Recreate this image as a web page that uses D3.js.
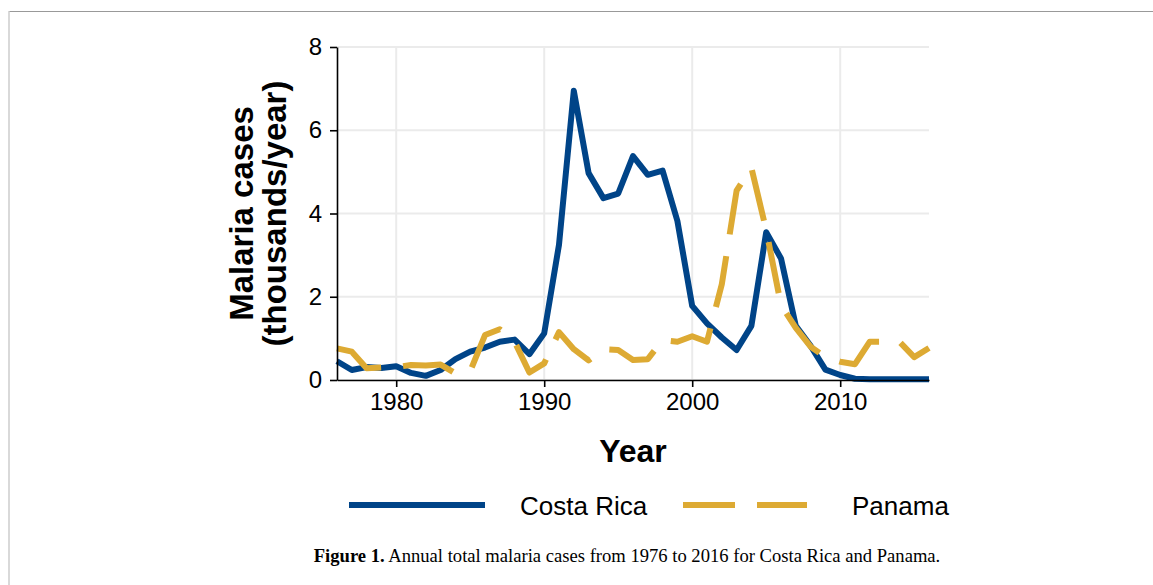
<!DOCTYPE html>
<html>
<head>
<meta charset="utf-8">
<script src="https://cdn.jsdelivr.net/npm/d3@7"></script>
<style>
  body { margin: 0; background: #fff; }
  svg { display: block; font-family: "Liberation Sans", Arial, sans-serif; }
</style>
</head>
<body>
<svg id="chart" width="1153" height="585"></svg>
<script>
// data, thousands of cases per year
const years = d3.range(1976, 2017);
const seriesNames = ["Costa Rica", "Panama"];
const costaRica = [0.45, 0.24, 0.31, 0.29, 0.33, 0.17, 0.10, 0.24, 0.50, 0.68,
    0.78, 0.92, 0.97, 0.62, 1.12, 3.25, 6.95, 4.97, 4.37, 4.48,
    5.38, 4.93, 5.03, 3.82, 1.78, 1.36, 1.02, 0.72, 1.30, 3.55,
    2.92, 1.30, 0.82, 0.25, 0.12, 0.03, 0.02, 0.02, 0.02, 0.02, 0.02];
const panama = [0.76, 0.68, 0.28, 0.30, 0.31, 0.36, 0.35, 0.37, 0.16, 0.21,
    1.08, 1.22, 0.92, 0.18, 0.40, 1.15, 0.74, 0.47, 0.74, 0.72,
    0.48, 0.50, 0.96, 0.92, 1.05, 0.92, 2.30, 4.55, 5.10, 3.60,
    1.80, 1.25, 0.80, 0.55, 0.44, 0.38, 0.92, 0.92, 0.92, 0.55, 0.77];
const xTicks = [1980, 1990, 2000, 2010];
const yTicks = [0, 2, 4, 6, 8];

const colors = ["#004488", "#DDAA33"];
const dashes = [null, "52,22"];

const svg = d3.select("#chart");
const plot = { left: 337, right: 929, top: 47, bottom: 380 };

const x = d3.scaleLinear().domain([1976, 2016]).range([plot.left, plot.right]);
const y = d3.scaleLinear().domain([0, 8]).range([plot.bottom, plot.top]);

// figure frame
svg.append("line").attr("x1", 9).attr("x2", 1153).attr("y1", 11.5).attr("y2", 11.5)
    .attr("stroke", "#999").attr("stroke-width", 1.2);
svg.append("line").attr("x1", 9).attr("x2", 9).attr("y1", 11).attr("y2", 585)
    .attr("stroke", "#ccc").attr("stroke-width", 1.5);

// grid
const grid = svg.append("g").attr("class", "grid");
grid.selectAll("line.v").data(xTicks).enter().append("line")
    .attr("x1", d => x(d)).attr("x2", d => x(d))
    .attr("y1", plot.top).attr("y2", plot.bottom)
    .attr("stroke", "#ebebeb").attr("stroke-width", 2);
grid.selectAll("line.h").data(yTicks).enter().append("line")
    .attr("x1", plot.left).attr("x2", plot.right)
    .attr("y1", d => y(d)).attr("y2", d => y(d))
    .attr("stroke", "#ebebeb").attr("stroke-width", 2);

// lines
const line = d3.line().x((d, i) => x(years[i])).y(d => y(d));
const seriesData = [costaRica, panama];

svg.append("g").selectAll("path").data(seriesData).enter().append("path")
    .attr("d", d => line(d))
    .attr("fill", "none")
    .attr("stroke", (d, i) => colors[i])
    .attr("stroke-width", 6)
    .attr("stroke-linejoin", "round")
    .attr("stroke-dasharray", (d, i) => dashes[i]);

// axes
const xAxis = svg.append("g")
    .attr("transform", `translate(0,${plot.bottom})`)
    .call(d3.axisBottom(x).tickValues(xTicks).tickFormat(d3.format("d")).tickSize(7).tickSizeOuter(0).tickPadding(6));
const yAxis = svg.append("g")
    .attr("transform", `translate(${plot.left},0)`)
    .call(d3.axisLeft(y).tickValues(yTicks).tickSize(7).tickSizeOuter(0).tickPadding(8));

[xAxis, yAxis].forEach(a => {
    a.select(".domain").attr("stroke", "#000").attr("stroke-width", 1.6);
    a.selectAll(".tick line").attr("stroke", "#000").attr("stroke-width", 1.6);
    a.selectAll(".tick text")
        .attr("fill", "#000")
        .style("font-size", "24px")
        .style("font-family", "'Liberation Sans', Arial, sans-serif");
});

// axis titles
svg.append("text")
    .attr("x", (plot.left + plot.right) / 2).attr("y", 462)
    .attr("text-anchor", "middle")
    .style("font-size", "32px").style("font-weight", "700")
    .text("Year");

const yTitle = svg.append("text")
    .attr("transform", `translate(0,${(plot.top + plot.bottom) / 2}) rotate(-90)`)
    .attr("text-anchor", "middle")
    .style("font-size", "33px").style("font-weight", "700");
yTitle.append("tspan").attr("x", 0).attr("y", 253).text("Malaria cases");
yTitle.append("tspan").attr("x", 0).attr("y", 286).text("(thousands/year)");

// legend
const legendX = [349, 683];
const legend = svg.append("g").selectAll("g").data(seriesNames).enter().append("g")
    .attr("transform", (d, i) => `translate(${legendX[i]},505)`);
legend.append("line")
    .attr("x1", 0).attr("x2", (d, i) => i === 0 ? 136 : 124)
    .attr("stroke", (d, i) => colors[i])
    .attr("stroke-width", 6)
    .attr("stroke-dasharray", (d, i) => dashes[i]);
legend.append("text")
    .attr("x", (d, i) => i === 0 ? 171 : 169)
    .attr("y", 10)
    .style("font-size", "26px")
    .text(d => d);

// caption
const caption = svg.append("text")
    .attr("x", 627).attr("y", 562)
    .attr("text-anchor", "middle")
    .style("font-family", "'Liberation Serif', 'Times New Roman', serif")
    .style("font-size", "18.6px");
caption.append("tspan").style("font-weight", "700").text("Figure 1.");
caption.append("tspan").text(" Annual total malaria cases from 1976 to 2016 for Costa Rica and Panama.");
</script>
</body>
</html>
